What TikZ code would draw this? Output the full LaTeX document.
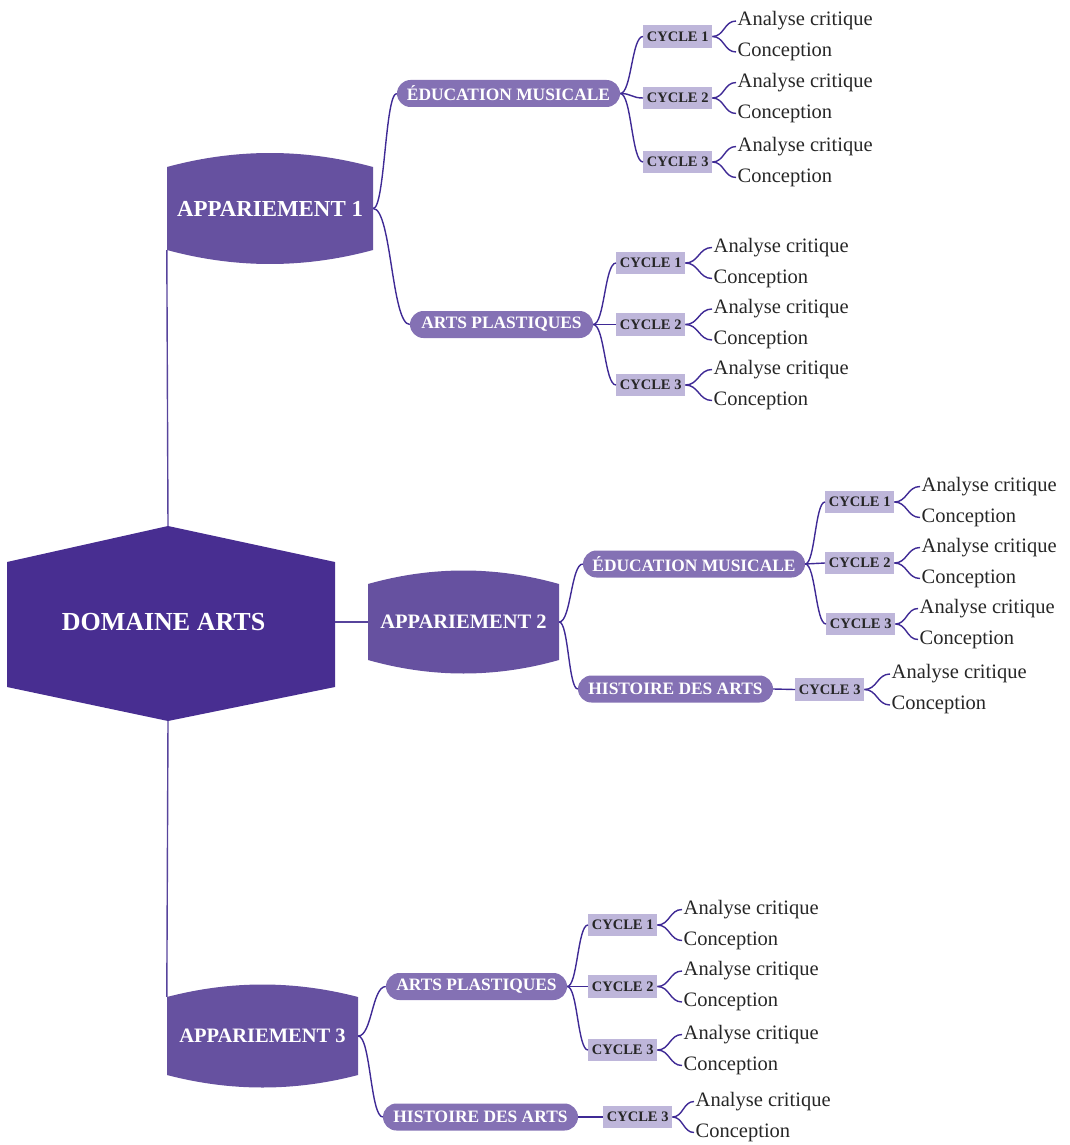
\documentclass[tikz,border=0pt]{standalone}
\usepackage{fontspec}
\setmainfont{Liberation Serif}
\usetikzlibrary{calc}
\definecolor{domc}{HTML}{482E91}
\definecolor{appc}{HTML}{6651A0}
\definecolor{pillc}{HTML}{8471B4}
\definecolor{cycc}{HTML}{BEB6DA}
\definecolor{linkc}{HTML}{3F2A95}
\definecolor{trunkc}{HTML}{57449C}
\definecolor{txtc}{HTML}{262626}
\tikzset{
  bz/.style={to path={let \p1=(\tikztostart), \p2=(\tikztotarget) in
     .. controls (\x1/2+\x2/2,\y1) and (\x1/2+\x2/2,\y2) .. (\tikztotarget)}},
  lk/.style={draw=linkc, line width=1.4pt},
  trunk/.style={draw=trunkc, line width=1.4pt},
  pill/.style={fill=pillc, rounded corners=13.5pt, minimum height=27pt, inner sep=0pt,
     text=white, font=\fontsize{17.4}{20}\selectfont\bfseries},
  cycbox/.style={fill=cycc, minimum height=22.5pt, minimum width=69pt, inner sep=0pt,
     anchor=west, text=txtc, font=\fontsize{14.5}{17}\selectfont\bfseries},
  leaf/.style={anchor=west, inner xsep=1.5pt, inner ysep=0pt, text=txtc,
     font=\fontsize{20.5}{24}\selectfont},
}
% #1 name, #2 box left x, #3 centre y, #4 number, #5 leaf x
\newcommand\mycyc[5]{%
  \node[cycbox] (#1) at (#2,#3) {CYCLE #4};
  \node[leaf] (#1a) at (#5,#3-15.5) {Analyse critique};
  \node[leaf] (#1b) at (#5,#3+15.5) {Conception};
  \draw[lk] (#1.east) to[bz] (#1a.west);
  \draw[lk] (#1.east) to[bz] (#1b.west);
}
% #1 name, #2 cx, #3 cy, #4 w, #5 half height at edges, #6 bulge, #7 font size, #8 text
\newcommand\myapp[8]{%
  \fill[appc] (#2-#4/2,#3-#5) .. controls (#2-#4/6,#3-#5-1.333*#6) and (#2+#4/6,#3-#5-1.333*#6) .. (#2+#4/2,#3-#5)
     -- (#2+#4/2,#3+#5) .. controls (#2+#4/6,#3+#5+1.333*#6) and (#2-#4/6,#3+#5+1.333*#6) .. (#2-#4/2,#3+#5) -- cycle;
  \node[minimum width=#4pt, minimum height=2*#5pt, inner sep=0pt, text=white,
     font=\fontsize{#7}{#7}\selectfont\bfseries] (#1) at (#2,#3) {#8};
}
\begin{document}
\begin{tikzpicture}[x=1pt,y=-1pt]
\useasboundingbox (0,0) rectangle (1069,1145);
% central hexagon
\coordinate (hT) at (168,526);
\coordinate (hTR) at (335,562);
\coordinate (hBR) at (335,687);
\coordinate (hB) at (168,721);
\coordinate (hBL) at (7,687);
\coordinate (hTL) at (7,562);
\coordinate (hR) at (335,622);
\fill[domc] (hT) -- (hTR) -- (hBR) -- (hB) -- (hBL) -- (hTL) -- cycle;
\node[text=white, font=\fontsize{26}{26}\selectfont\bfseries] (dom) at (163.5,622) {DOMAINE ARTS};

% appariements
\myapp{a1}{270}{208.5}{206}{41.5}{14}{22.9}{APPARIEMENT 1}
\myapp{a2}{463.5}{622}{191}{38}{13.5}{20.5}{APPARIEMENT 2}
\myapp{a3}{262.5}{1036}{191}{39}{12.5}{20.5}{APPARIEMENT 3}

\draw[trunk] (hT) -- (a1.south west);
\draw[trunk] (hB) -- (a3.north west);
\draw[trunk] (hR) -- (a2.west);

% sub-domains
\node[pill, minimum width=223pt] (a1m) at (508.5,93.5) {ÉDUCATION MUSICALE};
\node[pill, minimum width=183pt] (a1p) at (501.5,324.5) {ARTS PLASTIQUES};
\node[pill, minimum width=222pt] (a2m) at (694,564) {ÉDUCATION MUSICALE};
\node[pill, minimum width=195pt] (a2h) at (675.5,689) {HISTOIRE DES ARTS};
\node[pill, minimum width=181pt] (a3p) at (476.5,986.5) {ARTS PLASTIQUES};
\node[pill, minimum width=195pt] (a3h) at (480.5,1117) {HISTOIRE DES ARTS};

\draw[lk] (a1.east) to[bz] (a1m.west);
\draw[lk] (a1.east) to[bz] (a1p.west);
\draw[lk] (a2.east) to[bz] (a2m.west);
\draw[lk] (a2.east) to[bz] (a2h.west);
\draw[lk] (a3.east) to[bz] (a3p.west);
\draw[lk] (a3.east) to[bz] (a3h.west);

% cycles
\mycyc{ca}{643}{36.5}{1}{736}
\mycyc{cb}{643}{98}{2}{736}
\mycyc{cc}{643}{162}{3}{736}
\draw[lk] (a1m.east) to[bz] (ca.west);
\draw[lk] (a1m.east) to[bz] (cb.west);
\draw[lk] (a1m.east) to[bz] (cc.west);

\mycyc{cd}{616}{263}{1}{712}
\mycyc{ce}{616}{324.5}{2}{712}
\mycyc{cf}{616}{385}{3}{712}
\draw[lk] (a1p.east) to[bz] (cd.west);
\draw[lk] (a1p.east) to[bz] (ce.west);
\draw[lk] (a1p.east) to[bz] (cf.west);

\mycyc{cg}{825}{502}{1}{920}
\mycyc{ch}{825}{563}{2}{920}
\mycyc{ci}{826}{624}{3}{918}
\draw[lk] (a2m.east) to[bz] (cg.west);
\draw[lk] (a2m.east) to[bz] (ch.west);
\draw[lk] (a2m.east) to[bz] (ci.west);

\mycyc{cj}{795}{689.5}{3}{890}
\draw[lk] (a2h.east) to[bz] (cj.west);

\mycyc{ck}{588}{925}{1}{682}
\mycyc{cl}{588}{986.5}{2}{682}
\mycyc{cm}{588}{1050}{3}{682}
\draw[lk] (a3p.east) to[bz] (ck.west);
\draw[lk] (a3p.east) to[bz] (cl.west);
\draw[lk] (a3p.east) to[bz] (cm.west);

\mycyc{cn}{603}{1117}{3}{694}
\draw[lk] (a3h.east) to[bz] (cn.west);
\end{tikzpicture}
\end{document}
